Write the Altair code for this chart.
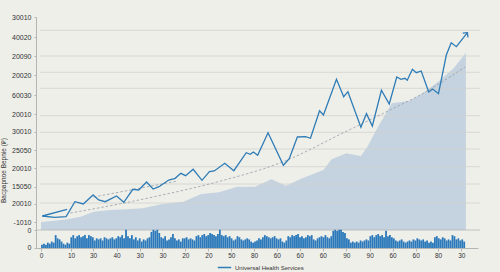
import altair as alt
import pandas as pd

# ---- main series (x in period units, y in value units) ----
main_x = [1.3, 14, 25.7, 34.7, 43.3, 53.3, 59, 65.7, 77.3, 84.7, 94, 100, 108, 114.7, 120.7, 130.7,
          137.3, 143, 148, 155.7, 164.7, 172.3, 177.3, 188, 197.3, 210, 214, 217.3, 221.7, 232.3,
          248, 254, 262.3, 270.7, 275.7, 285, 289, 302.3, 309.7, 314, 327.3, 333, 339, 348.3,
          356.3, 364, 368.3, 372.3, 374.7, 380, 384, 389, 396.7, 400.7, 406.7, 414.7, 419.7, 425, 436.3]
main_y = [14, 12.7, 13.3, 28.3, 26, 35, 30, 28.3, 34, 27.7, 40.7, 40, 48, 41, 43.3, 50,
          51.7, 56.7, 54.3, 60.7, 49.7, 58.3, 59, 66.7, 59.3, 77.3, 75.7, 78, 74.7, 97.3,
          64.7, 71.3, 93, 93.3, 91.7, 119.3, 115, 150.7, 133.3, 138.3, 102.7, 116.3, 104, 139.7,
          126, 153, 150.7, 151.7, 149.7, 160.7, 157.3, 159, 138, 141, 136.3, 175, 187.3, 183.3, 197.3]

area_x = [0, 14, 27, 40.7, 54, 70.7, 87.3, 104, 124, 145.7, 164, 182.3, 200.7, 219, 235.7, 250.7,
          267.3, 289, 297.3, 312.3, 327.3, 334, 344, 359, 377.3, 390.7, 407.3, 422.3, 434.7]
area_y = [8, 9.3, 10.7, 13.3, 18.3, 20, 20.7, 21.7, 26, 28.3, 36, 37.7, 43.3, 43.3, 50.7, 44.3,
          51.7, 60, 70.7, 76.7, 74, 83.3, 101.7, 126.7, 129.3, 136.7, 149, 161.7, 177.3]

trend_x = [30, 80, 124, 180, 247, 311, 357, 384, 434]
trend_y = [17, 26, 35, 48, 68, 98, 120, 133, 163]

trend2_x = [54, 140]
trend2_y = [33, 49]

start_x = [1.3, 26.7]
start_y = [14, 20.7]

bar_h = [3, 4, 3, 5, 4, 6, 5, 12, 9, 8, 6, 4, 3, 5, 4, 10, 12, 9, 11, 12, 10, 11, 12, 9, 12, 11, 10, 7, 9, 8,
         9, 7, 10, 9, 8, 9, 10, 8, 9, 11, 10, 12, 9, 17, 11, 9, 12, 8, 10, 7, 9, 6, 8, 7, 9, 10, 15, 17, 16, 17,
         14, 10, 9, 11, 7, 8, 10, 13, 9, 7, 8, 6, 9,
         9, 10, 8, 9, 8, 7, 11, 12, 10, 12, 13, 11, 12, 14, 13, 12, 11, 13, 17, 12, 11, 12, 10, 11, 9, 7, 8, 11, 10, 8,
         7, 8, 9, 8, 6, 5, 6, 7, 9, 8, 10, 12, 11, 10, 9, 10, 11, 9, 8, 9, 6, 5, 7, 11, 10, 12, 11, 12, 13, 10,
         11, 9, 10, 12, 11, 12, 8, 7, 9, 10, 11, 10, 12,
         10, 9, 11, 16, 17, 16, 17, 17, 15, 14, 9, 8, 5, 6, 5, 6, 5, 7, 6, 7, 8, 7, 11, 12, 10, 12, 13, 11, 12, 10,
         16, 11, 12, 10, 9, 7, 6, 7, 8, 6, 5, 6, 7, 6, 8, 7, 9, 8, 7, 8, 6, 7, 5, 6, 5, 10, 11, 9, 8, 10,
         9, 7, 8, 7, 12, 11, 8, 9, 7, 8, 6]

y_tick_vals = [212.7, 192.7, 174, 155, 135, 116, 98.3, 80, 61.7, 43.3, 26.3, 8, 0, -17.7]
y_tick_labels = ["30010", "40020", "20090", "20020", "60030", "20010", "30010", "25050", "20010",
                 "15050", "20010", "-1010", "0", "0"]
x_tick_vals = [0, 30.7, 53.3, 77.3, 101, 124.3, 147.7, 171.3, 194.7, 218, 241.3, 264.7, 288.3,
               312.3, 336.3, 359.7, 383.3, 406.3, 430]
x_tick_labels = ["0", "10", "30", "40", "30", "30", "20", "20", "50", "80", "60", "60", "60",
                 "90", "90", "60", "60", "80", "30"]
grid_vals = [199.7, 174, 157.7, 141.7, 114.3, 97.7, 81, 63.3, 46, 27]

series_name = "Universal Health Services"
y_title = "Bacpapnoe Bepnie (₽)"

BLUE = "#2f7cb6"
BG = "#efefea"


def lookup(vals, labels):
    return ("[" + ",".join(f"'{l}'" for l in labels) + "][indexof([" +
            ",".join(str(v) for v in vals) + "], datum.value)]")


main_df = pd.DataFrame({"x": main_x, "y": main_y, "series": series_name})
area_df = pd.DataFrame({"x": area_x, "y": area_y})
trend_df = pd.DataFrame({"x": trend_x, "y": trend_y})
trend2_df = pd.DataFrame({"x": trend2_x, "y": trend2_y})
start_df = pd.DataFrame({"x": start_x, "y": start_y})
grid_df = pd.DataFrame({"y": grid_vals})
bar_df = pd.DataFrame({"x": [2 * i + 1 for i in range(len(bar_h))], "h": bar_h})
end_df = main_df.tail(1)

xs = alt.Scale(domain=[0, 442], nice=False, zero=False)
ys = alt.Scale(domain=[-18, 213], nice=False, zero=False)

x_axis = alt.Axis(values=x_tick_vals, labelExpr=lookup(x_tick_vals, x_tick_labels), title=None,
                  grid=False, tickSize=3, labelPadding=1, labelFontSize=6.5, labelColor="#333",
                  domainColor="#b5b5b5", tickColor="#b5b5b5", labelFont="Liberation Sans",
                  labelOverlap=False)
y_axis = alt.Axis(values=y_tick_vals, labelExpr=lookup(y_tick_vals, y_tick_labels), title=y_title,
                  grid=False, tickSize=2, labelPadding=3, labelFontSize=7, labelColor="#333",
                  domainColor="#b5b5b5", tickColor="#b5b5b5", labelFont="Liberation Sans",
                  titleFont="Liberation Sans", titleFontSize=6.5, titleFontWeight="normal",
                  titleColor="#333", titleX=-30, titleY=153, labelOverlap=False)

X = alt.X("x:Q", scale=xs, axis=x_axis)
Y = alt.Y("y:Q", scale=ys, axis=y_axis)

area = alt.Chart(area_df).mark_area(color="#c4d3df", opacity=1).encode(x=X, y=Y, y2=alt.datum(0))

grid = alt.Chart(grid_df).mark_rule(color="#d2d2ce", strokeWidth=0.8).encode(
    y=Y, x=alt.value(4), x2=alt.value(444))

base_rule = alt.Chart(pd.DataFrame({"y": [0]})).mark_rule(color="#b5b5b5", strokeWidth=0.8).encode(
    y=Y, x=alt.value(0), x2=alt.value(444))

trend = alt.Chart(trend_df).mark_line(color="#949ea6", strokeWidth=0.8, strokeDash=[2.5, 2],
                                      interpolate="monotone").encode(x=X, y=Y)

trend2 = alt.Chart(trend2_df).mark_line(color="#949ea6", strokeWidth=0.8, strokeDash=[2.5, 2]).encode(x=X, y=Y)

start = alt.Chart(start_df).mark_line(color=BLUE, strokeWidth=1.3).encode(x=X, y=Y)

line = alt.Chart(main_df).mark_line(strokeWidth=1.3).encode(
    x=X, y=Y,
    color=alt.Color("series:N", scale=alt.Scale(range=[BLUE]),
                    legend=alt.Legend(orient="none", legendX=181, legendY=243, title=None,
                                      symbolType="stroke", symbolStrokeWidth=1.5, symbolSize=180,
                                      labelFontSize=6, labelColor="#333", labelFont="Liberation Sans",
                                      labelOffset=3, padding=0)),
)

arrow = alt.Chart(end_df).mark_point(shape="M-1,1L0,0L1,1", filled=False, strokeWidth=1.3,
                                     size=45, angle=39, color=BLUE, opacity=1).encode(x=X, y=Y)

upper = alt.layer(area, grid, base_rule, trend, trend2, start, line, arrow)

bars = alt.Chart(bar_df).mark_bar(width=1.8, color="#2b79ba").encode(
    x=X,
    y=alt.Y("h:Q", scale=alt.Scale(domain=[0, 215], nice=False), axis=None),
)

chart = alt.layer(upper, bars).resolve_scale(y="independent").properties(
    width=442, height=231,
    autosize=alt.AutoSizeParams(type="none"),
    padding={"left": 36, "top": 17, "right": 22, "bottom": 24},
    background=BG,
).configure_view(stroke=None)

chart.save("out.html", embed_options={"renderer": "svg", "actions": False})
